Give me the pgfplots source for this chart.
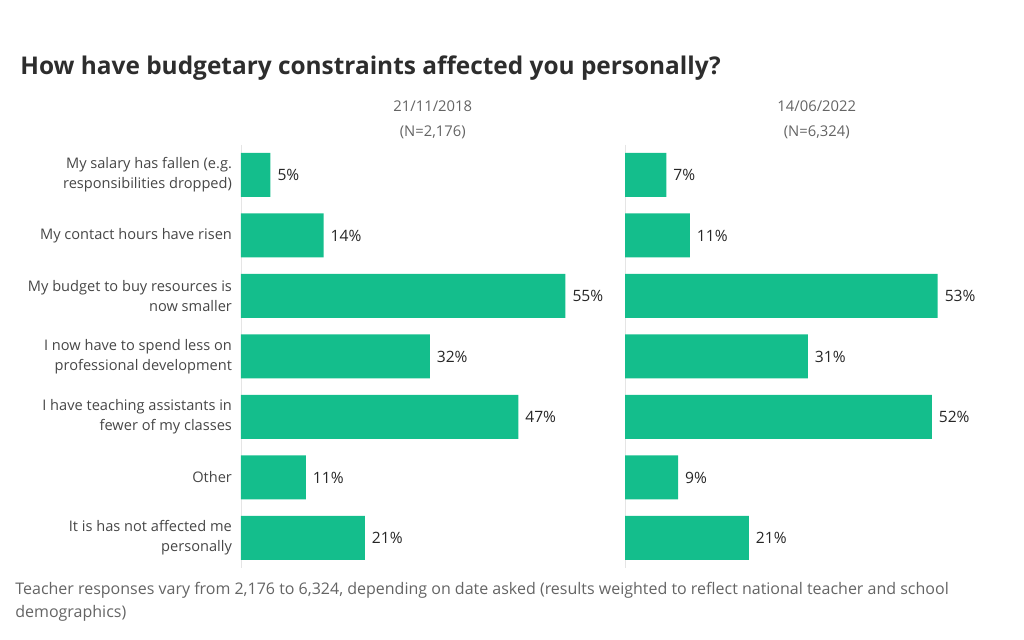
\documentclass[border=0pt]{standalone}
\usepackage{pgfplots}
\pgfplotsset{compat=1.18}
\usepackage{fontspec}
\setmainfont{Open Sans}
\definecolor{barc}{RGB}{20,190,140}
\definecolor{titlec}{RGB}{45,45,45}
\definecolor{labc}{RGB}{70,70,70}
\definecolor{hdrc}{RGB}{100,100,100}
\begin{document}
\begin{tikzpicture}
\path[use as bounding box] (0,0) rectangle (512pt,-320pt);
\node[anchor=base west, font=\fontsize{12.2}{14}\selectfont\bfseries, text=titlec, inner sep=0pt] at (10pt,-37.5pt) {How have budgetary constraints affected you personally?};
\node[anchor=north west, align=left, font=\fontsize{8}{11.5}\selectfont, text=hdrc, inner sep=0pt] at (7.5pt,-291pt) {Teacher responses vary from 2,176 to 6,324, depending on date asked (results weighted to reflect national teacher and school\\demographics)};
\pgfplotsset{
  common/.style={
    xbar, scale only axis, width=191.75pt, height=211.75pt,
    xmin=0, xmax=65, ymin=-0.5, ymax=6.5, y dir=reverse,
    bar width=22pt,
    /pgf/number format/assume math mode=true,
    hide x axis,
    axis y line=left,
    y axis line style={draw=black!10, -},
    ytick={0,...,6},
    major tick length=0pt,
    nodes near coords={\pgfmathprintnumber{\pgfplotspointmeta}\%},
    nodes near coords style={font=\fontsize{7.8}{9}\selectfont, text=black!85, anchor=west, xshift=0pt},
    title style={at={(rel axis cs:0.5,1)}, anchor=south, yshift=-6.5pt, font=\fontsize{7.4}{12.5}\selectfont, text=hdrc, align=center},
  }
}
\begin{axis}[common, at={(120.5pt,-284.1pt)}, anchor=south west,
  title={21/11/2018\\(N=2,176)},
  yticklabel style={font=\fontsize{7.3}{9.8}\selectfont, text=labc, align=right, xshift=-1pt},
  yticklabels={{My salary has fallen (e.g.\\responsibilities dropped)},
               {My contact hours have risen},
               {My budget to buy resources is\\now smaller},
               {I now have to spend less on\\professional development},
               {I have teaching assistants in\\fewer of my classes},
               {Other},
               {It is has not affected me\\personally}}]
\addplot[fill=barc, draw=none] coordinates {(5,0) (14,1) (55,2) (32,3) (47,4) (11,5) (21,6)};
\end{axis}
\begin{axis}[common, at={(312.5pt,-284.1pt)}, anchor=south west,
  title={14/06/2022\\(N=6,324)},
  yticklabels={}]
\addplot[fill=barc, draw=none] coordinates {(7,0) (11,1) (53,2) (31,3) (52,4) (9,5) (21,6)};
\end{axis}
\end{tikzpicture}
\end{document}
